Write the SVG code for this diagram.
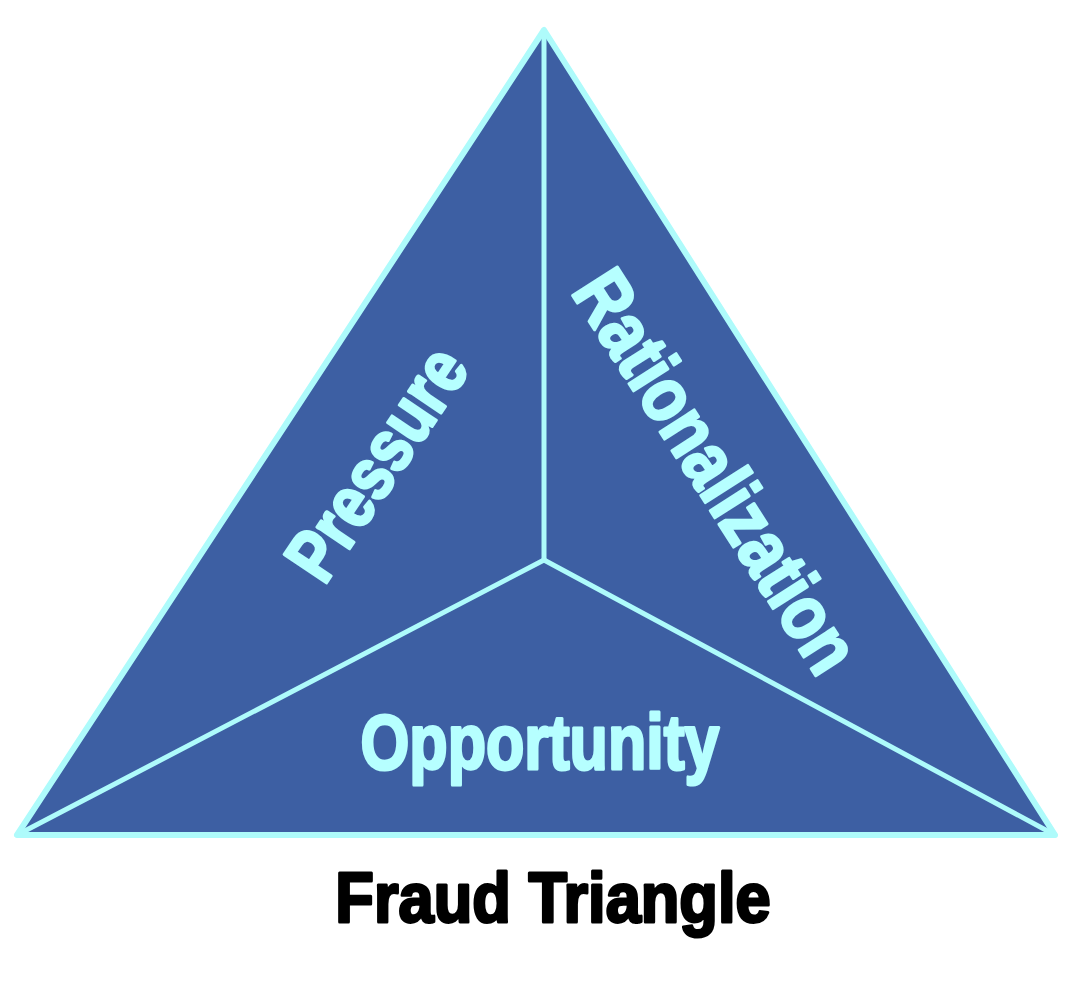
<svg xmlns="http://www.w3.org/2000/svg" width="1080" height="1000" viewBox="0 0 1080 1000">
  <style>
    .region { fill: #3D5FA3; stroke: none; }
    .edge { fill: none; stroke: #AEFBFB; stroke-width: 6; stroke-linejoin: round; stroke-linecap: round; }
    .divider { fill: none; stroke: #AEFBFB; stroke-width: 5; stroke-linecap: round; }
    .label { font-family: "Liberation Sans", Arial, sans-serif; font-weight: bold; fill: #B6FFFF; stroke: #B6FFFF; stroke-width: 3; stroke-linejoin: round; text-anchor: middle; }
    .title { font-family: "Liberation Sans", Arial, sans-serif; font-weight: bold; fill: #000000; stroke: #000000; stroke-width: 3; stroke-linejoin: round; text-anchor: middle; }
  </style>
  <rect width="1080" height="1000" fill="#ffffff"/>

  <g id="pressure">
    <polygon class="region" points="544,30 17,835 544,560"/>
    <text class="label" font-size="74" transform="translate(376,463) rotate(-56) scale(0.83,1)" x="0" y="26">Pressure</text>
  </g>

  <g id="rationalization">
    <polygon class="region" points="544,30 1055,835 544,560"/>
    <text class="label" font-size="77" transform="translate(717,471) rotate(57.4) scale(0.84,1)" x="0" y="27">Rationalization</text>
  </g>

  <g id="opportunity">
    <polygon class="region" points="17,835 1055,835 544,560"/>
    <text class="label" font-size="77" transform="translate(540,769) scale(0.815,1)" x="0" y="0">Opportunity</text>
  </g>

  <g id="outline">
    <polygon class="edge" points="544,30 17,835 1055,835"/>
  </g>

  <g id="connectors">
    <line class="divider" x1="544" y1="560" x2="544" y2="30"/>
    <line class="divider" x1="544" y1="560" x2="17" y2="835"/>
    <line class="divider" x1="544" y1="560" x2="1055" y2="835"/>
  </g>

  <g id="title">
    <text class="title" font-size="71" transform="translate(553,922) scale(0.89,1)" x="0" y="0">Fraud Triangle</text>
  </g>
</svg>
